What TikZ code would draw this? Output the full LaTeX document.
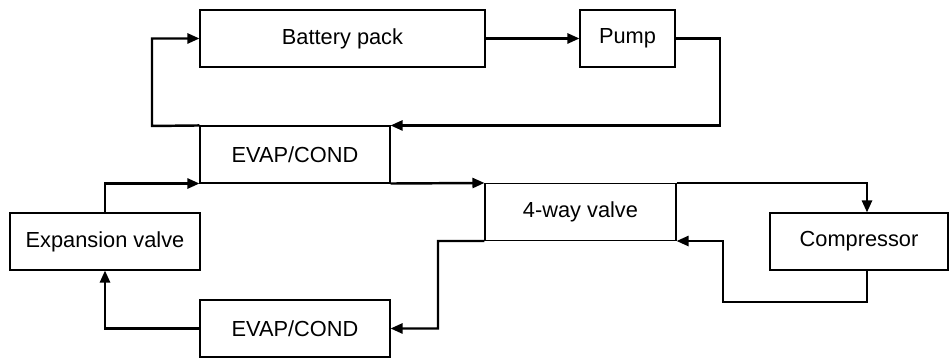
\documentclass[tikz,border=0pt]{standalone}
\usepackage{fontspec}
\setmainfont{Liberation Sans}
\usepackage{tikz}
\usetikzlibrary{arrows.meta, positioning, calc}

\begin{document}
\begin{tikzpicture}[
    font=\fontsize{12.4}{14}\selectfont,
    unit/.style={draw, line width=0.6pt, inner sep=0pt, minimum height=1.14cm},
    flow/.style={-{Triangle[length=2.4mm, width=2mm]}, line width=1.4pt},
]
\useasboundingbox (0,0) rectangle (18.98,7.2);

% ============ circuito de bateria ============
\node[unit, minimum width=5.7cm] (bat) at (6.85,6.43) {Battery pack};
\node[unit, minimum width=1.9cm] (pump) at (12.55,6.43) {Pump};
\node[unit, minimum width=3.8cm] (evt) at (5.9,4.11) {EVAP/COND};

\coordinate (pumpR) at (14.4,6.43);
\coordinate (batL) at (3.04,4.68);

\draw[flow] (bat) -- (pump);
\draw[flow] (pump.east) -- (pumpR) |- (evt.north east);
\draw[flow] (evt.north west) -- (batL) |- (bat.west);

% ============ circuito de refrigerante ============
\node[unit, minimum width=3.82cm] (fw) at (11.61,2.96) {4-way valve};
\node[unit, minimum width=3.56cm] (comp) at (17.18,2.37) {Compressor};
\node[unit, minimum width=3.8cm] (exv) at (2.1,2.37) {Expansion valve};
\node[unit, minimum width=3.8cm] (evb) at (5.9,0.63) {EVAP/COND};

\coordinate (compIn) at ([xshift=0.16cm]comp.north);
\coordinate (compOut) at (17.34,1.16);
\coordinate (ret) at (14.46,1.16);
\coordinate (drop) at (8.76,2.38);

\draw[flow] (evt.south east) -- (fw.north west);
\draw[flow] (fw.north east) -- (compIn |- fw.north) -- (compIn);
\draw[flow] (compOut |- comp.south) -- (compOut) -- (ret) |- (fw.south east);
\draw[flow] (fw.south west) -- (drop) |- (evb.east);
\draw[flow] (evb.west) -| (exv.south);
\draw[flow] (exv.north) |- (evt.south west);

\end{tikzpicture}
\end{document}
